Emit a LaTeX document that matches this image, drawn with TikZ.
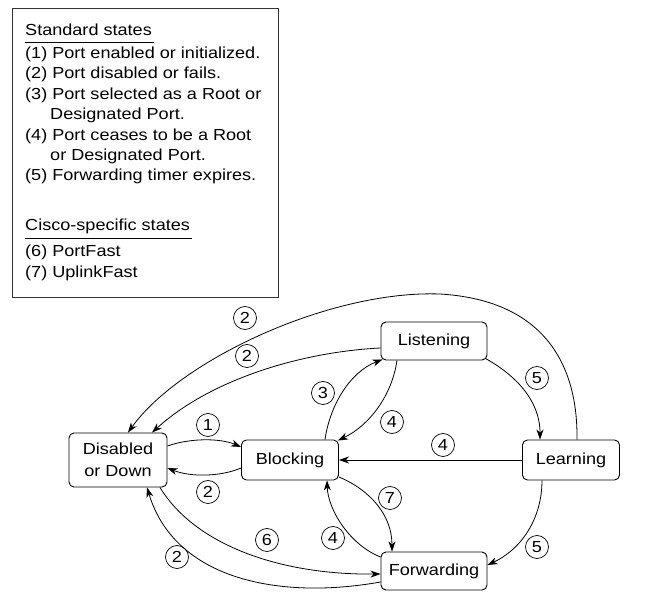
\documentclass[tikz,border=0pt]{standalone}
\usepackage{fontspec}
\setmainfont{Liberation Sans}[FakeStretch=1.13]
\usetikzlibrary{arrows.meta}
\begin{document}
\begin{tikzpicture}[x=1pt,y=-1pt,
  every node/.style={font=\fontsize{16}{21.5}\selectfont},
  state/.style={draw, rounded corners=5pt, line width=0.9pt, inner sep=0pt, align=center},
  num/.style={draw, circle, line width=0.7pt, minimum size=23pt, inner sep=0pt},
  leg/.style={anchor=base west, inner sep=0pt},
  tr/.style={-{Stealth[length=10pt,width=7pt,inset=3pt]}, line width=0.8pt},
]
\useasboundingbox (0,0) rectangle (646,609);

% legend
\draw[line width=0.8pt, black!80] (12,8) rectangle (278,297);
\node[leg] (lg0) at (25,36) {Standard states};
\draw[line width=0.7pt] (25,42) -- (154,42);
\node[leg] (lg1) at (25,58.5) {(1) Port enabled or initialized.};
\node[leg] (lg2) at (25,78.9) {(2) Port disabled or fails.};
\node[leg] (lg3) at (25,99.3) {(3) Port selected as a Root or};
\node[leg] (lg3b) at (50,119.7) {Designated Port.};
\node[leg] (lg4) at (25,140.1) {(4) Port ceases to be a Root};
\node[leg] (lg4b) at (50,160.5) {or Designated Port.};
\node[leg] (lg5) at (25,180.9) {(5) Forwarding timer expires.};
\node[leg] (lgc) at (25,231) {Cisco-specific states};
\draw[line width=0.7pt] (25,238) -- (192,238);
\node[leg] (lg6) at (25,257) {(6) PortFast};
\node[leg] (lg7) at (25,278) {(7) UplinkFast};

% states
\node[state, minimum width=98pt, minimum height=54pt] (dis) at (118,460) {Disabled\\or Down};
\node[state, minimum width=97pt, minimum height=40pt] (blk) at (290,460) {Blocking};
\node[state, minimum width=106pt, minimum height=38pt] (lis) at (434,341) {Listening};
\node[state, minimum width=97pt, minimum height=40pt] (lrn) at (571,460) {Learning};
\node[state, minimum width=106pt, minimum height=38pt] (fwd) at (434,571) {Forwarding};

% transitions
\draw[tr] ([yshift=14pt]dis.east) .. controls (190,438) and (220,438) .. ([yshift=13pt]blk.west);
\draw[tr] ([yshift=-8pt]blk.west) .. controls (220,477) and (190,477) .. ([yshift=-8pt]dis.east);
\draw[tr] ([yshift=-7pt]lis.west) .. controls (300,352) and (210,380) .. ([xshift=34pt]dis.north);
\draw[tr] ([xshift=6pt]lrn.north) .. controls (578,360) and (540,300) .. (440,294)
          .. controls (330,290) and (180,360) .. ([xshift=10pt]dis.north);
\draw[tr] ([xshift=35pt]blk.north) .. controls (330,405) and (350,372) .. ([xshift=2pt,yshift=1pt]lis.south west);
\draw[tr] ([xshift=-37pt]lis.south) .. controls (392,395) and (370,425) .. ([xshift=-1pt,yshift=-1pt]blk.north east);
\draw[tr] ([xshift=-2pt,yshift=2pt]lis.south east) .. controls (515,375) and (540,400) .. ([xshift=-31pt]lrn.north);
\draw[tr] (lrn.west) -- (blk.east);
\draw[tr] ([yshift=-17pt]blk.east) .. controls (370,490) and (392,515) .. ([xshift=-42pt]fwd.north);
\draw[tr] ([yshift=14pt]fwd.west) .. controls (350,545) and (328,510) .. ([xshift=37pt]blk.south);
\draw[tr] ([xshift=-29pt]lrn.south) .. controls (542,520) and (520,550) .. ([yshift=6pt]fwd.east);
\draw[tr] ([xshift=42pt]dis.south) .. controls (195,545) and (280,575) .. ([yshift=-3pt]fwd.west);
\draw[tr] ([yshift=-11pt]fwd.west) .. controls (280,600) and (175,580) .. ([xshift=29pt]dis.south);

% labels
\node[num] (n1) at (208,425) {1};
\node[num] (n2a) at (208,492) {2};
\node[num] (n2b) at (247,356) {2};
\node[num] (n2c) at (245,318) {2};
\node[num] (n3) at (323,393) {3};
\node[num] (n4a) at (392,422) {4};
\node[num] (n5a) at (537,378) {5};
\node[num] (n4b) at (443,445) {4};
\node[num] (n7) at (390,498) {7};
\node[num] (n4c) at (333,538) {4};
\node[num] (n5b) at (537,547) {5};
\node[num] (n6) at (267,540) {6};
\node[num] (n2d) at (177,557) {2};
\end{tikzpicture}
\end{document}
